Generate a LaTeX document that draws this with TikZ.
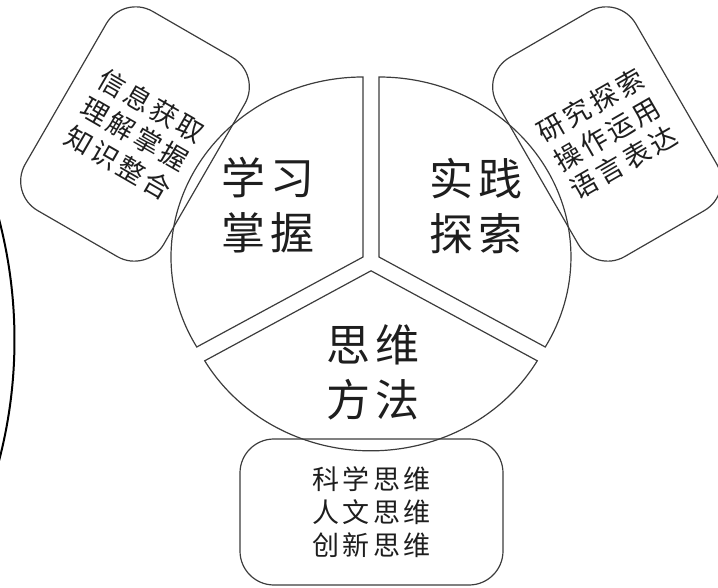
\documentclass[tikz,border=0pt]{standalone}
\usepackage{fontspec}
\setmainfont{Noto Sans CJK SC}
\newfontfamily\cjkbig[LetterSpace=10]{Noto Sans CJK SC}
\newfontfamily\cjkcard[LetterSpace=12]{Noto Sans CJK SC}
\usepackage{tikz}
\usetikzlibrary{calc}
\definecolor{edge}{HTML}{3C3C3C}
\definecolor{ink}{HTML}{1E1E1E}
\tikzset{
  sector/.style={draw=edge, line width=1.2pt, line join=miter},
  card/.style={draw=edge, line width=1.2pt, rounded corners=34pt, align=center, text=ink,
    font=\cjkcard\fontsize{27}{33}\selectfont, inner sep=0pt},
  big/.style={text=ink, align=center, font=\cjkbig\fontsize{44}{55}\selectfont},
  rim/.style={draw=black, line width=2pt},
}

\begin{document}
\begin{tikzpicture}[x=1pt,y=1pt]
  \useasboundingbox (0,0) rectangle (718,587);
  \clip (0,0) rectangle (718,587);
  \coordinate (C) at (371,325.4);
  \coordinate (A1) at ($(C)+(150:9.2)$);
  \coordinate (A2) at ($(C)+(30:9.2)$);
  \coordinate (A3) at ($(C)+(270:9.2)$);
  % exploded pie
  \draw[sector] (A1) -- ++(210:192pt and 180pt) arc[start angle=210, end angle=90, x radius=192pt, y radius=180pt] -- cycle;
  \draw[sector] (A2) -- ++(90:192pt and 180pt) arc[start angle=90, end angle=-30, x radius=192pt, y radius=180pt] -- cycle;
  \draw[sector] (A3) -- ++(-30:192pt and 180pt) arc[start angle=-30, end angle=-150, x radius=192pt, y radius=180pt] -- cycle;
  \node[big] (learn) at (268,382) {学习\\掌握};
  \node[big] (practice) at (476,381) {实践\\探索};
  \node[big] (think) at (373,215) {思维\\方法};
  % side cards
  \node[card, rotate=-30, minimum width=160pt, minimum height=230pt] (info) at (135,453) {信息获取\\理解掌握\\知识整合};
  \node[card, rotate=30, minimum width=160pt, minimum height=230pt] (explore) at (607,453) {研究探索\\操作运用\\语言表达};
  \node[card, minimum width=263pt, minimum height=146pt] (mind) at (371.5,75) {科学思维\\人文思维\\创新思维};
  % outer rim on the left
  \coordinate (R) at (-464.5,247);
  \draw[rim] ($(R)+(-16:479)$) arc[start angle=-16, end angle=16, radius=479pt];
\end{tikzpicture}
\end{document}
